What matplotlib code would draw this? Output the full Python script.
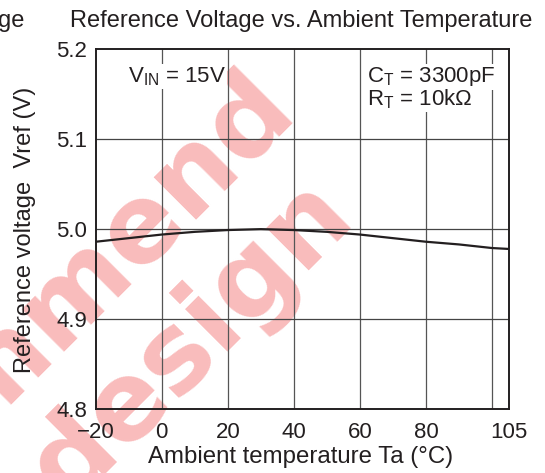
import numpy as np
import matplotlib
matplotlib.use("Agg")
import matplotlib.pyplot as plt

# data
temps = [-20, -10, 0, 10, 20, 30, 40, 50, 60, 70, 80, 90, 100, 105]
vref = [4.986, 4.990, 4.994, 4.997, 4.999, 5.000, 4.999, 4.997,
        4.994, 4.990, 4.986, 4.983, 4.979, 4.978]
xticks = [-20, 0, 20, 40, 60, 80, 105]
xtick_labels = ["\u221220", "0", "20", "40", "60", "80", "105"]
xgrid = [0, 20, 40, 60, 80, 100]
yticks = [4.8, 4.9, 5.0, 5.1, 5.2]
ytick_labels = ["4.8", "4.9", "5.0", "5.1", "5.2"]

INK = "#231f20"
PINK = "#f9bcbc"

plt.rcParams["font.family"] = ["Liberation Sans", "DejaVu Sans"]
plt.rcParams["mathtext.fontset"] = "custom"
plt.rcParams["mathtext.rm"] = "Liberation Sans"

W, H = 545, 473
fig = plt.figure(figsize=(W / 100, H / 100), dpi=100)
ax = fig.add_axes([95.7 / W, 1 - 409 / H, (508.5 - 95.7) / W, (409 - 49.3) / H])
ax.set_facecolor("none")


def px(x, y):
    # pixel position (from top-left) -> figure fraction
    return x / W, 1 - y / H


# watermark, behind everything (wide heavy face)
wm = dict(rotation=45, rotation_mode="anchor", ha="right", va="baseline",
          fontsize=78, fontweight="bold", family="DejaVu Sans",
          color=PINK, zorder=-5)
fig.text(*px(300, 116), "Not recommend", **wm)
fig.text(*px(357, 222), "for new design", **wm)

# grid
for x in xgrid:
    ax.axvline(x, color="#555555", lw=0.9, zorder=1)
for y in [4.9, 5.0, 5.1]:
    ax.axhline(y, color="#444444", lw=0.9, zorder=1)

ax.plot(temps, vref, color=INK, lw=1.6, zorder=3)

ax.set_xlim(-20, 105)
ax.set_ylim(4.8, 5.2)
ax.set_xticks(xticks)
ax.set_xticklabels(xtick_labels)
ax.set_yticks(yticks)
ax.set_yticklabels(ytick_labels)
ax.tick_params(length=0, labelsize=16, colors=INK)
ax.tick_params(axis="x", pad=9)
ax.tick_params(axis="y", pad=6)
for s in ax.spines.values():
    s.set_linewidth(1.4)
    s.set_color(INK)

fig.text(*px(301, 463), "Ambient temperature Ta (\u00b0C)", ha="center",
         va="baseline", fontsize=17.3, color=INK)
fig.text(*px(25, 230), "Reference voltage  Vref (V)", ha="center",
         va="center", rotation=90, fontsize=17, color=INK)

box = dict(facecolor="white", edgecolor="none", pad=1)
ax.text(-10.2, 5.1636, r"V$_\mathregular{IN}$ = 15V", fontsize=16, color=INK,
        va="baseline", bbox=box, zorder=4)
ax.text(62.1, 5.1636, r"C$_\mathregular{T}$ = 3300pF", fontsize=16, color=INK,
        va="baseline", bbox=box, zorder=4)
ax.text(62.1, 5.1379, "R$_\\mathregular{T}$ = 10k\u03a9", fontsize=16, color=INK,
        va="baseline", bbox=box, zorder=4)

fig.text(*px(301, 27), "Reference Voltage vs. Ambient Temperature",
         ha="center", va="baseline", fontsize=17, color=INK)
fig.text(*px(24, 27), "ge", ha="right", va="baseline", fontsize=17, color=INK)

fig.savefig("out.png", dpi=100)
